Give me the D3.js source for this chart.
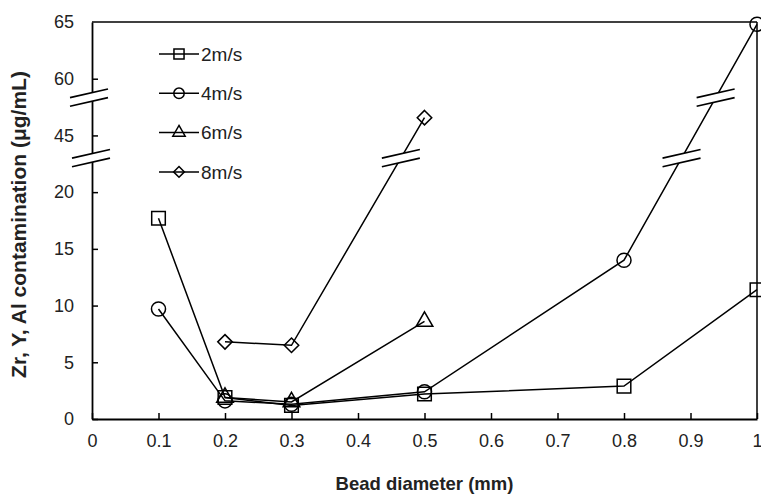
<!DOCTYPE html>
<html lang="en">
<head>
  <meta charset="UTF-8">
  <title>Contamination vs bead diameter</title>
  <script src="https://d3js.org/d3.v7.min.js"></script>
  <style>
    body { margin: 0; background: #fff; }
    svg { font-family: "Liberation Sans", Arial, sans-serif; }
  </style>
</head>
<body>
  <svg id="chart" width="761" height="496"></svg>
  <script>
    // data
    const speeds = ["2m/s", "4m/s", "6m/s", "8m/s"];
    const symbols = ["square", "circle", "triangle", "diamond"];
    const diam2 = [0.1, 0.2, 0.3, 0.5, 0.8, 1.0];
    const val2 = [17.7, 1.9, 1.2, 2.2, 2.9, 11.4];
    const diam4 = [0.1, 0.2, 0.3, 0.5, 0.8, 1.0];
    const val4 = [9.7, 1.6, 1.3, 2.4, 14.0, 64.8];
    const diam6 = [0.2, 0.3, 0.5];
    const val6 = [1.9, 1.5, 8.6];
    const diam8 = [0.2, 0.3, 0.5];
    const val8 = [6.8, 6.5, 49.7];
    const xTicks = [0, 0.1, 0.2, 0.3, 0.4, 0.5, 0.6, 0.7, 0.8, 0.9, 1];
    const yTicks = [0, 5, 10, 15, 20, 45, 60, 65];
    const breakVals = [35, 55]; // where the y axis is cut

    const series = [
      {name: speeds[0], sym: symbols[0], pts: diam2.map((d, i) => [d, val2[i]])},
      {name: speeds[1], sym: symbols[1], pts: diam4.map((d, i) => [d, val4[i]])},
      {name: speeds[2], sym: symbols[2], pts: diam6.map((d, i) => [d, val6[i]])},
      {name: speeds[3], sym: symbols[3], pts: diam8.map((d, i) => [d, val8[i]])}
    ];

    const svg = d3.select("#chart");
    const mLeft = 92, mRight = 757, mTop = 22, mBottom = 419;
    const step = (mBottom - mTop) / 7;

    const x = d3.scaleLinear().domain([0, 1]).range([mLeft, mRight]);
    // broken axis: every tick sits one step apart
    const y = d3.scaleLinear()
      .domain([0, 20, 45, 60, 65])
      .range([mBottom, mBottom - 4 * step, mBottom - 5 * step, mBottom - 6 * step, mTop]);

    // frame
    svg.append("line").attr("x1", mLeft).attr("x2", mRight).attr("y1", mTop).attr("y2", mTop)
      .attr("stroke", "#000").attr("stroke-width", 1.5);
    svg.append("line").attr("x1", mRight).attr("x2", mRight).attr("y1", mTop).attr("y2", mBottom)
      .attr("stroke", "#000").attr("stroke-width", 1.5);

    const xAxis = svg.append("g").attr("transform", `translate(0,${mBottom})`)
      .call(d3.axisBottom(x).tickValues(xTicks).tickSizeInner(-6).tickSizeOuter(0).tickPadding(15)
        .tickFormat(d => d === 0 || d === 1 ? d3.format("d")(d) : d3.format(".1f")(d)));
    const yAxis = svg.append("g").attr("transform", `translate(${mLeft},0)`)
      .call(d3.axisLeft(y).tickValues(yTicks).tickSizeInner(-6).tickSizeOuter(0).tickPadding(18));
    [xAxis, yAxis].forEach(a => {
      a.select(".domain").attr("stroke-width", 1.8);
      a.selectAll(".tick line").attr("stroke-width", 1.5);
      a.selectAll(".tick text").attr("font-size", 18).attr("fill", "#222");
    });
    yAxis.selectAll(".tick").filter(d => d === 65).select("line").remove();

    // break mark: white parallelogram with two slanted strokes
    function breakMark(cx, cy) {
      const hw = 19, sl = 4.3, gap = 4.3;
      const g = svg.append("g");
      g.append("path")
        .attr("d", `M${cx - hw},${cy - gap + sl}L${cx + hw},${cy - gap - sl}L${cx + hw},${cy + gap - sl}L${cx - hw},${cy + gap + sl}Z`)
        .attr("fill", "#fff");
      [-gap, gap].forEach(o => {
        g.append("line")
          .attr("x1", cx - hw).attr("y1", cy + o + sl)
          .attr("x2", cx + hw).attr("y2", cy + o - sl)
          .attr("stroke", "#000").attr("stroke-width", 1.6);
      });
    }

    // series lines
    const line = d3.line().x(d => x(d[0])).y(d => y(d[1]));
    series.forEach(s => {
      svg.append("path").datum(s.pts).attr("d", line)
        .attr("fill", "none").attr("stroke", "#000").attr("stroke-width", 1.5);
    });

    // breaks on the axis and wherever a line crosses them
    breakVals.forEach((bv, i) => {
      const by = y(bv);
      breakMark(mLeft - (i === 0 ? 1 : 3), by);
      series.forEach(s => {
        for (let k = 1; k < s.pts.length; k++) {
          const a = s.pts[k - 1], b = s.pts[k];
          const ya = y(a[1]), yb = y(b[1]);
          if ((ya - by) * (yb - by) < 0) {
            const t = (ya - by) / (ya - yb);
            breakMark(x(a[0]) + t * (x(b[0]) - x(a[0])), by);
          }
        }
      });
    });

    // square turned 45 degrees, as wide as it is tall
    const symbolRhomb = {
      draw(ctx, size) {
        const r = Math.sqrt(size / 2);
        ctx.moveTo(0, -r); ctx.lineTo(r, 0); ctx.lineTo(0, r); ctx.lineTo(-r, 0); ctx.closePath();
      }
    };
    const symMap = {
      square: d3.symbolSquare, circle: d3.symbolCircle,
      triangle: d3.symbolTriangle, diamond: symbolRhomb
    };
    const symSize = {square: 185, circle: 155, triangle: 120, diamond: 105};

    series.forEach(s => {
      svg.append("g").selectAll("path").data(s.pts).join("path")
        .attr("transform", d => `translate(${x(d[0])},${y(d[1])})`)
        .attr("d", d3.symbol(symMap[s.sym], symSize[s.sym]))
        .attr("fill", "none").attr("stroke", "#000").attr("stroke-width", 1.5);
    });

    // legend
    const legend = svg.append("g").attr("transform", "translate(159,54)");
    series.forEach((s, i) => {
      const row = legend.append("g").attr("transform", `translate(0,${i * 39.3})`);
      row.append("line").attr("x1", 0).attr("x2", 40).attr("stroke", "#000").attr("stroke-width", 1.5);
      row.append("path").attr("transform", "translate(20,0)")
        .attr("d", d3.symbol(symMap[s.sym], symSize[s.sym] * 0.55))
        .attr("fill", "none").attr("stroke", "#000").attr("stroke-width", 1.5);
      row.append("text").attr("x", 42).attr("dy", "0.35em").attr("font-size", 19)
        .attr("fill", "#222").text(s.name);
    });

    // axis titles
    svg.append("text").attr("x", (mLeft + mRight) / 2).attr("y", 490)
      .attr("text-anchor", "middle").attr("font-size", 18.5).attr("font-weight", "bold")
      .attr("fill", "#222").text("Bead diameter (mm)");
    svg.append("text")
      .attr("transform", `translate(26,${(mTop + mBottom) / 2 + 4}) rotate(-90)`)
      .attr("text-anchor", "middle").attr("font-size", 21).attr("font-weight", "bold")
      .attr("fill", "#222").text("Zr, Y, Al contamination (μg/mL)");
  </script>
</body>
</html>
